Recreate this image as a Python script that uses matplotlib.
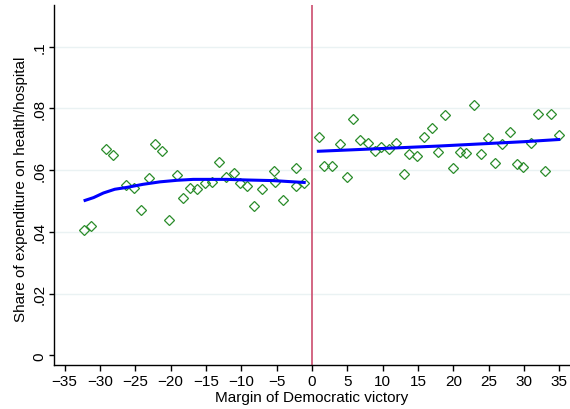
import matplotlib
matplotlib.use("Agg")
import matplotlib.pyplot as plt

plt.rcParams['font.family'] = ['Liberation Sans', 'DejaVu Sans']

# binned means, Republican side (margin < 0)
left_x = [-32.2, -31.2, -29.2, -28.2, -26.3, -25.2, -24.2, -23.1, -22.2, -21.2,
          -20.2, -19.1, -18.2, -17.2, -16.2, -15.1, -14.2, -13.2, -12.2, -11.1,
          -10.2, -9.2, -8.2, -7.1, -5.4, -5.2, -4.1, -2.2, -2.3, -1.1]
left_y = [.0406, .0420, .0667, .0648, .0553, .0541, .0470, .0574, .0684, .0663,
          .0438, .0584, .0510, .0543, .0538, .0558, .0562, .0627, .0579, .0592,
          .0558, .0550, .0485, .0539, .0598, .0562, .0503, .0607, .0550, .0558]

# binned means, Democratic side (margin > 0)
right_x = [0.95, 1.74, 2.83, 3.92, 4.95, 5.80, 6.83, 7.88, 8.95, 9.80,
           10.85, 11.88, 12.97, 13.76, 14.81, 15.88, 16.93, 17.78, 18.85, 19.94,
           20.93, 21.82, 22.91, 23.90, 24.89, 25.84, 26.87, 27.96, 28.95, 29.84,
           30.93, 31.92, 32.96, 33.80, 34.89]
right_y = [.0708, .0614, .0614, .0684, .0579, .0765, .0696, .0689, .0663, .0674,
           .0667, .0689, .0586, .0652, .0647, .0708, .0737, .0660, .0777, .0607,
           .0660, .0655, .0811, .0652, .0704, .0624, .0684, .0724, .0620, .0611,
           .0688, .0782, .0596, .0782, .0714]

# fitted curves on each side of the cutoff
fit_left_x = [-32.1, -30.9, -29.5, -27.9, -26.2, -23.9, -21.5, -19.1, -16.8,
              -14.4, -12.1, -9.2, -5.5, -2.6, -1.1]
fit_left_y = [.0502, .0511, .0526, .0538, .0544, .0554, .0562, .0567, .0570,
              .0570, .0570, .0568, .0566, .0562, .0560]
fit_right_x = [0.9, 6.0, 12.0, 18.0, 24.0, 30.0, 34.9]
fit_right_y = [.0661, .0666, .0672, .0678, .0685, .0692, .0699]

x_ticks = list(range(-35, 40, 5))
y_ticks = [0, .02, .04, .06, .08, .1]
y_tick_labels = ['0', '.02', '.04', '.06', '.08', '.1']

fig = plt.figure(figsize=(5.7, 4.1), dpi=100)
ax = fig.add_axes([0.0947, 0.108, 0.9053, 0.877])

for yv in y_ticks[1:]:
    ax.axhline(yv, color='#eaf2f3', lw=1.0, zorder=0)

ax.axvline(0, color='#d05a7a', lw=1.3, zorder=1)

mk = dict(ls='none', marker='D', ms=5.0, mfc='none', mec='#2a8c2a', mew=0.9, zorder=3)
ax.plot(left_x, left_y, **mk)
ax.plot(right_x, right_y, **mk)

ax.plot(fit_left_x, fit_left_y, color='#0000ff', lw=2.2, zorder=4)
ax.plot(fit_right_x, fit_right_y, color='#0000ff', lw=2.2, zorder=4)

ax.set_xlim(-36.5, 36.5)
ax.set_ylim(-0.003, 0.1134)
ax.set_xticks(x_ticks)
ax.set_yticks(y_ticks)
ax.set_yticklabels(y_tick_labels)

for s in ['top', 'right']:
    ax.spines[s].set_visible(False)
for s in ['left', 'bottom']:
    ax.spines[s].set_linewidth(1.0)

ax.tick_params(axis='x', length=4, width=1, pad=2.5, labelsize=11)
ax.tick_params(axis='y', length=3.5, width=1, pad=7, labelsize=11, labelrotation=90)
for lab in ax.get_yticklabels():
    lab.set_ha('center')
    lab.set_va('center')

ax.set_xlabel('Margin of Democratic victory', fontsize=11)
ax.xaxis.set_label_coords(0.5, -0.09)
ax.xaxis.label.set_va('center')
ax.set_ylabel('Share of expenditure on health/hospital', fontsize=11)
ax.yaxis.set_label_coords(-0.064, 0.49)
ax.yaxis.label.set_va('center')

fig.savefig('out.png', dpi=100)
